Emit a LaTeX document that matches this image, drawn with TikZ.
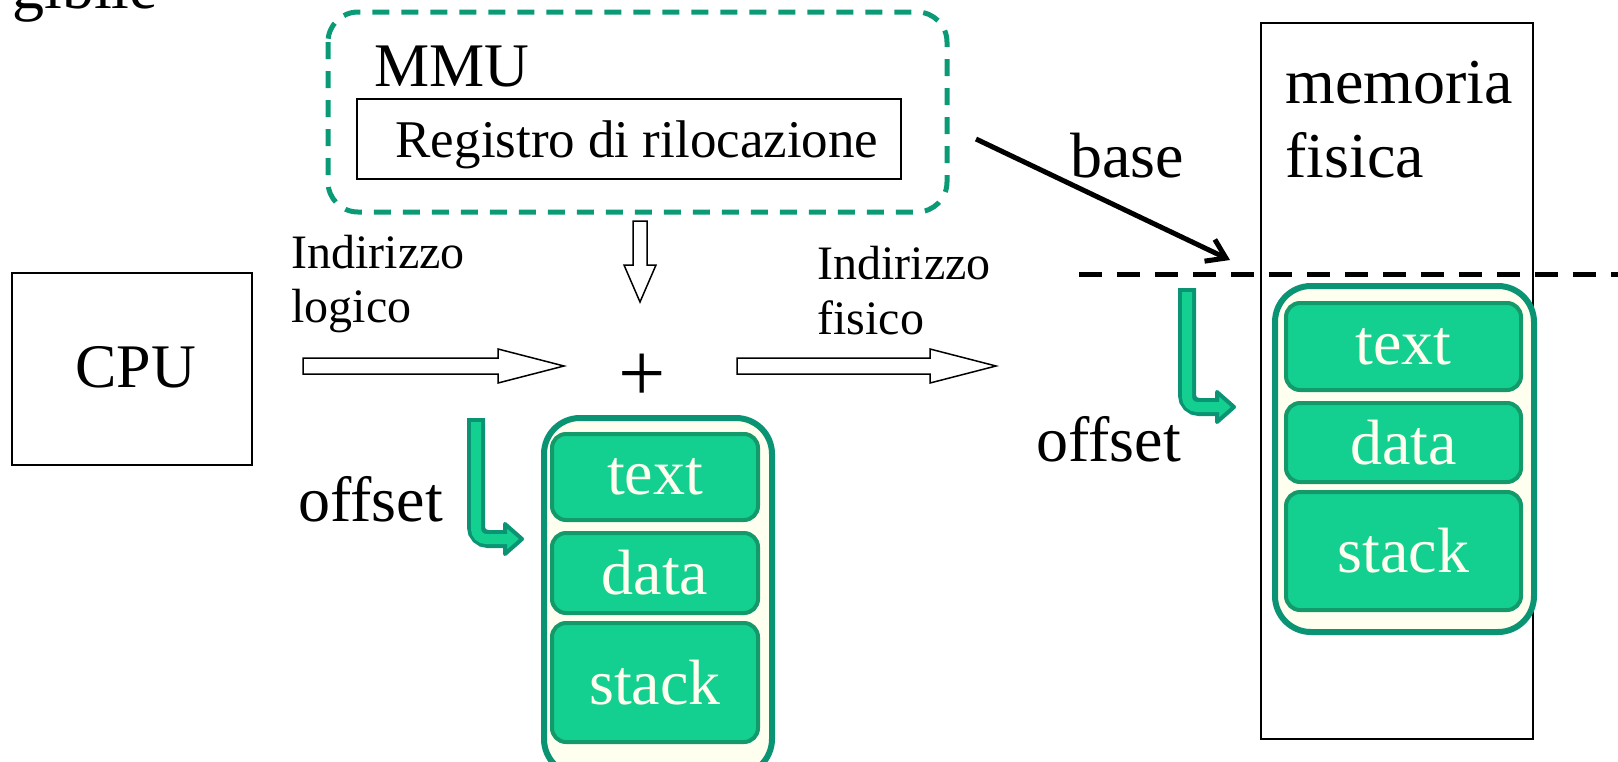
\documentclass[tikz,border=0pt]{standalone}
\usepackage{fontspec}
\setmainfont{Liberation Serif}
\usetikzlibrary{arrows.meta}
\definecolor{mmugreen}{HTML}{0A9B76}
\definecolor{segfill}{HTML}{14D090}
\definecolor{segdraw}{HTML}{13996A}
\definecolor{outerdraw}{HTML}{0B9473}
\definecolor{creamy}{HTML}{FFFFF0}
\tikzset{
  lbl/.style={anchor=base west, inner sep=0pt, font=\fontsize{32}{36}\selectfont},
  smalllbl/.style={anchor=base west, inner sep=0pt, font=\fontsize{24}{27}\selectfont},
  seg/.style={draw=segdraw, line width=2pt, fill=segfill, rounded corners=7pt, text=creamy,
    font=\fontsize{32}{36}\selectfont, inner sep=0pt},
  outerbox/.style={draw=outerdraw, line width=3pt, fill=creamy, rounded corners=18pt},
  hollow/.style={draw=black, line width=0.75pt, fill=white, line join=miter},
  thinbox/.style={draw=black, line width=0.8pt},
  bentout/.style={draw=outerdraw, line width=9pt, rounded corners=6pt},
  bentin/.style={draw=segfill, line width=5pt, rounded corners=5pt},
  benthead/.style={fill=segfill, draw=outerdraw, line width=2pt, line join=round},
}
\begin{document}
\begin{tikzpicture}[x=0.5pt,y=-0.5pt]
\useasboundingbox (0,0) rectangle (1618,761);

% clipped title fragment
\node[lbl] (title) at (12,8) {gibile};

% MMU
\draw[mmugreen, line width=2.5pt, dash pattern=on 8.5pt off 6pt, rounded corners=15pt]
  (328,12) rectangle (947,212);
\node[lbl, font=\fontsize{31}{36}\selectfont] (mmu) at (374,86) {MMU};
\node[thinbox, minimum width=272pt, minimum height=40pt, inner sep=0pt] (reg) at (629,139) {};
\node[anchor=base, inner sep=0pt, font=\fontsize{26.5}{30}\selectfont] (regt) at (637,157) {Registro di rilocazione};

% CPU
\node[thinbox, minimum width=120pt, minimum height=96pt, inner sep=0pt] (cpu) at (132,369) {};
\node[lbl, font=\fontsize{31}{36}\selectfont] (cput) at (75,387) {CPU};

% labels
\node[smalllbl] (il1) at (291,268) {Indirizzo};
\node[smalllbl] (il2) at (291,322) {logico};
\node[smalllbl] (if1) at (817,279) {Indirizzo};
\node[smalllbl] (if2) at (817,334) {fisico};

% hollow arrows
\draw[hollow] (303,358) -- (498,358) -- (498,349) -- (564,366) -- (498,383) -- (498,374) -- (303,374) -- cycle;
\draw[hollow] (737,358) -- (930,358) -- (930,349) -- (996,366) -- (930,383) -- (930,374) -- (737,374) -- cycle;
\draw[hollow] (633,221) -- (647,221) -- (647,265) -- (656,265) -- (640,302) -- (624,265) -- (633,265) -- cycle;

% plus
\node[inner sep=0pt, font=\fontsize{42}{42}\selectfont] (plus) at (642,378) {+};

% memoria fisica
\draw[line width=1pt] (1261,23) rectangle (1533,739);
\node[lbl] (m1) at (1285,103) {memoria};
\node[lbl] (m2) at (1285,177) {fisica};
\node[lbl] (base) at (1070,177) {base};
\coordinate (bs) at (976,139);
\coordinate (be) at (1230,260);
\draw[line width=2.5pt, -{Straight Barb[length=9pt,width=12pt]}] (bs) -- (be);

\coordinate (dl) at (1079,274);
\coordinate (dr) at (1618,274);
\draw[line width=2.5pt, dash pattern=on 11.5pt off 7.5pt] (dl) -- (dr);

% offsets
\node[lbl] (off1) at (298,521) {offset};
\node[lbl] (off2) at (1036,461) {offset};

% left process
\draw[outerbox] (544,418) rectangle (772,775);
\node[seg, minimum width=103pt, minimum height=43pt] (ltext) at (655,477) {text};
\node[seg, minimum width=103pt, minimum height=40pt] (ldata) at (655,573) {data};
\node[seg, minimum width=103pt, minimum height=59.5pt] (lstack) at (655,682.5) {stack};

% right process
\draw[outerbox] (1275,286) rectangle (1534,632);
\node[seg, minimum width=117.5pt, minimum height=43.5pt] (rtext) at (1403.5,346.5) {text};
\node[seg, minimum width=117.5pt, minimum height=39.5pt] (rdata) at (1403.5,442.5) {data};
\node[seg, minimum width=117.5pt, minimum height=59pt] (rstack) at (1403.5,551) {stack};

% bent green arrows
\draw[benthead] (505,524) -- (522,539) -- (505,554) -- cycle;
\draw[bentout] (476,418) |- (505,539);
\draw[bentin] (476,422) |- (508,539);

\draw[benthead] (1217,392) -- (1234,407) -- (1217,422) -- cycle;
\draw[bentout] (1187,288) |- (1217,407);
\draw[bentin] (1187,292) |- (1220,407);
\end{tikzpicture}
\end{document}
